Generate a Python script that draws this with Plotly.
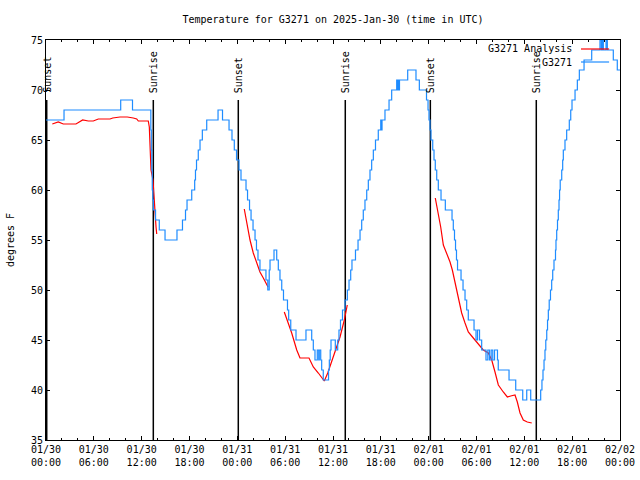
import plotly.graph_objects as go

# ---- data (hours after 2025-01-30 00:00 UTC) ----
g3271_hours = [0.00, 2.26, 9.37, 10.85, 13.15, 13.21, 13.27, 13.33, 13.40, 13.47, 13.74, 14.21, 14.93, 16.43,
               17.12, 17.50, 17.69, 18.28, 18.65, 18.75, 18.88, 19.10, 19.32, 19.61, 20.16, 21.58, 22.14, 22.96,
               23.33, 23.62, 23.90, 24.21, 24.46, 25.09, 25.28, 25.53, 25.72, 25.97, 26.22, 26.40, 26.59, 26.84,
               27.59, 27.82, 28.00, 28.10, 28.60, 28.94, 29.14, 29.35, 29.57, 29.79, 30.29, 30.44, 30.70, 31.36,
               32.61, 33.33, 33.53, 33.74, 34.03, 34.21, 34.28, 34.46, 34.58, 34.78, 35.44, 35.54, 35.65, 35.75,
               36.29, 36.59, 36.75, 36.94, 37.19, 37.51, 37.80, 38.01, 38.22, 38.38, 38.82, 39.14, 39.39, 39.60,
               39.80, 40.01, 40.23, 40.43, 40.64, 40.85, 41.06, 41.33, 41.68, 41.99, 42.06, 42.15, 42.52, 43.03,
               43.36, 43.99, 44.06, 44.15, 44.24, 44.34, 45.37, 46.41, 46.83, 47.73, 47.92, 48.04, 48.17, 48.29,
               48.51, 48.67, 48.83, 49.01, 49.21, 49.55, 50.09, 50.93, 51.09, 51.24, 51.37, 51.49, 51.62, 52.06,
               52.31, 52.56, 52.77, 52.97, 53.69, 53.94, 54.13, 54.38, 54.65, 55.19, 55.42, 55.63, 55.84, 56.04,
               56.26, 56.63, 56.73, 58.08, 58.92, 59.80, 60.30, 60.80, 62.05, 62.21, 62.34, 62.47, 62.59, 62.69,
               62.81, 62.91, 63.01, 63.12, 63.28, 63.43, 63.56, 63.72, 63.91, 63.97, 64.06, 64.16, 64.26, 64.35,
               64.42, 64.50, 64.69, 64.81, 64.89, 65.10, 65.31, 65.64, 65.82, 65.98, 66.36, 66.65, 66.90, 67.49,
               68.45, 69.49, 69.66, 69.78, 69.91, 70.25, 70.41, 71.16, 71.66, 72.00]
g3271_temps = [67, 68, 69, 68, 66, 64, 62, 60, 59, 58, 57, 56, 55, 56,
               57, 58, 59, 60, 61, 62, 63, 64, 65, 66, 67, 68, 67, 66,
               65, 64, 63, 62, 61, 60, 59, 58, 57, 56, 55, 54, 53, 52,
               51, 50, 52, 53, 54, 53, 52, 51, 50, 49, 48, 47, 46, 45,
               46, 45, 44, 43, 44, 43, 44, 43, 42, 41, 42, 43, 44, 45,
               44, 45, 46, 47, 48, 49, 50, 51, 52, 53, 54, 55, 56, 57,
               58, 59, 60, 61, 62, 63, 64, 65, 66, 67, 66, 67, 68, 69,
               70, 71, 70, 71, 70, 71, 72, 71, 70, 69, 68, 67, 66, 65,
               64, 63, 62, 61, 60, 59, 58, 57, 56, 55, 54, 53, 52, 51,
               50, 49, 48, 47, 46, 45, 46, 45, 44, 43, 44, 43, 44, 43,
               44, 43, 42, 41, 40, 39, 40, 39, 40, 41, 42, 43, 44, 45,
               46, 47, 48, 49, 50, 51, 52, 53, 54, 55, 56, 57, 58, 59,
               60, 61, 62, 63, 64, 65, 66, 67, 68, 69, 70, 71, 72, 73,
               74, 75, 74, 75, 74, 75, 74, 73, 72, 72]

analysis_hours = [0.79, 1.54, 2.17, 3.76, 4.60, 5.31, 5.93, 6.56, 8.03, 8.37, 9.28, 10.20, 10.95, 11.38, 11.58,
                  12.83, 12.96, 13.05, 13.17, 13.42, 13.55, 13.67, 13.80, 13.89, None,
                  24.87, 25.18, 25.59, 26.00, 26.43, 26.84, 27.26, 27.68, 27.85, None,
                  29.89, 30.39, 30.82, 31.45, 31.86, 32.99, 33.53, 34.16, 34.91, 35.34, 35.84, 36.38, 36.88,
                  37.42, 37.79, None,
                  48.83, 49.21, 49.51, 49.84, 50.26, 50.68, 50.97, 51.30, 51.72, 52.14, 52.56, 52.97, 53.60,
                  54.23, 54.85, 55.48, 55.91, 56.32, 56.74, 57.36, 57.87, 58.29, 58.83, 59.12, 59.46, 59.87,
                  60.37, 60.93]
analysis_temps = [66.6, 66.8, 66.6, 66.6, 67.0, 66.9, 66.9, 67.1, 67.1, 67.2, 67.3, 67.3, 67.2, 67.1, 66.9,
                  66.9, 66.3, 63.4, 62.0, 61.0, 59.0, 58.5, 56.3, 55.6, None,
                  58.1, 56.8, 55.0, 53.7, 52.6, 51.8, 51.2, 50.6, 50.3, None,
                  47.8, 46.7, 45.7, 44.0, 43.2, 43.2, 42.3, 41.7, 40.9, 41.7, 42.8, 44.2, 45.3,
                  47.0, 48.5, None,
                  59.2, 57.7, 56.3, 54.5, 53.7, 52.8, 52.0, 50.7, 49.0, 47.7, 46.7, 45.8, 45.2,
                  44.6, 44.0, 43.7, 43.0, 41.8, 40.5, 39.8, 39.3, 39.4, 39.5, 38.8, 37.7, 37.0,
                  36.8, 36.7]

event_hours = [0.09, 13.46, 24.12, 37.54, 48.21, 61.50]
event_labels = ["Sunset", "Sunrise", "Sunset", "Sunrise", "Sunset", "Sunrise"]
event_top = 69.0

tick_hours = [0, 6, 12, 18, 24, 30, 36, 42, 48, 54, 60, 66, 72]
tick_labels = ["01/30<br>00:00", "01/30<br>06:00", "01/30<br>12:00", "01/30<br>18:00",
               "01/31<br>00:00", "01/31<br>06:00", "01/31<br>12:00", "01/31<br>18:00",
               "02/01<br>00:00", "02/01<br>06:00", "02/01<br>12:00", "02/01<br>18:00",
               "02/02<br>00:00"]

FONT = "DejaVu Sans Mono"
BLUE = "#1e8cff"
RED = "#ff0000"

fig = go.Figure()

# event lines
ev_x, ev_y = [], []
for h in event_hours:
    ev_x += [h, h, None]
    ev_y += [event_top, 35, None]
fig.add_trace(go.Scatter(x=ev_x, y=ev_y, mode="lines", line=dict(color="black", width=1.5),
                         hoverinfo="skip", showlegend=False))

fig.add_trace(go.Scatter(x=analysis_hours, y=analysis_temps, mode="lines", name="G3271 Analysis",
                         line=dict(color=RED, width=1.2), connectgaps=False, showlegend=False))
fig.add_trace(go.Scatter(x=g3271_hours, y=g3271_temps, mode="lines", name="G3271",
                         line=dict(color=BLUE, width=1.2, shape="hv"), showlegend=False))

for h, lab in zip(event_hours, event_labels):
    fig.add_annotation(x=h, y=event_top, xref="x", yref="y", text=lab, textangle=-90,
                       showarrow=False, xanchor="center", yanchor="bottom", yshift=5,
                       font=dict(family=FONT, size=10, color="black"))

# manual gnuplot-style legend (key)
legend_items = [("G3271 Analysis", RED, 0.9775), ("G3271", BLUE, 0.945)]
for name, col, yp in legend_items:
    fig.add_annotation(x=0.9205, y=yp, xref="paper", yref="paper", text=name, showarrow=False,
                       xanchor="right", yanchor="middle", font=dict(family=FONT, size=10, color="black"))
    fig.add_shape(type="line", xref="paper", yref="paper", x0=0.932, x1=0.981, y0=yp, y1=yp,
                  line=dict(color=col, width=1.2))

fig.update_layout(
    width=640, height=480,
    margin=dict(l=46, r=20, t=40, b=40, autoexpand=False),
    paper_bgcolor="white", plot_bgcolor="white",
    font=dict(family=FONT, size=10, color="black"),
    title=dict(text="Temperature for G3271 on 2025-Jan-30 (time in UTC)", x=0.5, xref="paper",
               xanchor="center", y=1 - 19 / 480, yanchor="middle",
               font=dict(family=FONT, size=10, color="black")),
)
fig.update_xaxes(range=[0, 72], tickvals=tick_hours, ticktext=tick_labels, ticks="inside", ticklen=4,
                 tickcolor="black", showline=True, linecolor="black", linewidth=1, mirror="ticks",
                 showgrid=False, zeroline=False, automargin=False,
                 minor=dict(dtick=2, tick0=0, ticks="inside", ticklen=2, tickcolor="black", showgrid=False),
                 tickfont=dict(family=FONT, size=10))
fig.update_yaxes(range=[35, 75], tickvals=[35, 40, 45, 50, 55, 60, 65, 70, 75], ticks="inside", ticklen=4,
                 tickcolor="black", showline=True, linecolor="black", linewidth=1, mirror="ticks",
                 showgrid=False, zeroline=False, automargin=False,
                 title=dict(text="degrees F", font=dict(family=FONT, size=10), standoff=14),
                 tickfont=dict(family=FONT, size=10))

fig.write_html("out.html", config={"displayModeBar": False},
               post_script="document.body.style.margin='0';document.body.style.padding='0';"
                           "document.body.style.overflow='hidden';")
